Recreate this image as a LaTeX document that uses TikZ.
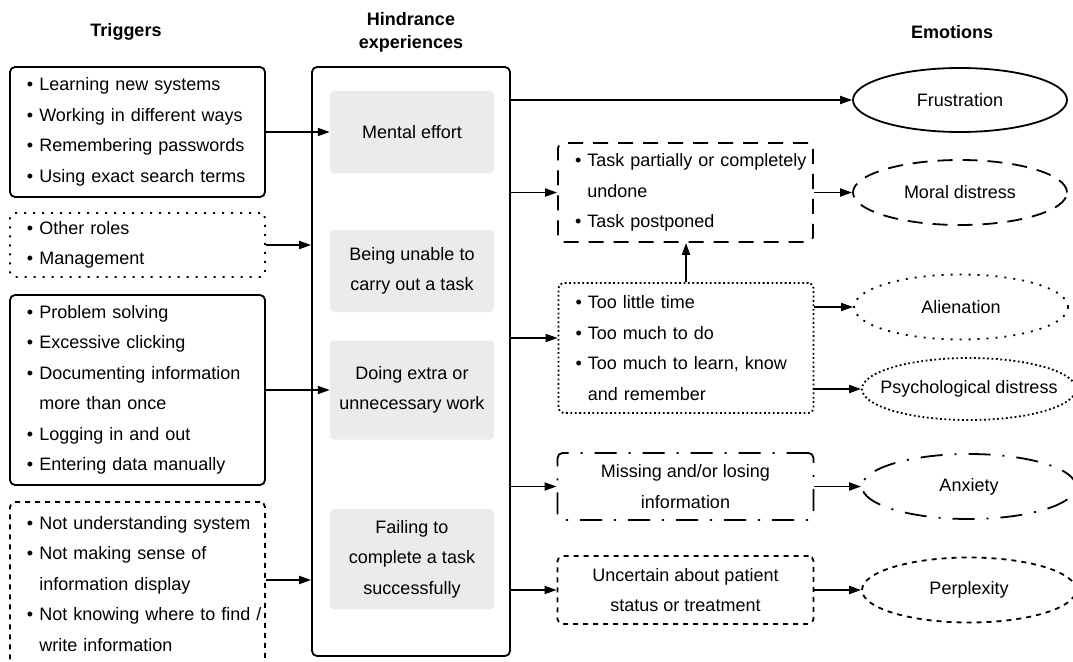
\documentclass[tikz,border=0pt]{standalone}
\usepackage{fontspec}
\setmainfont{Liberation Sans}
\usetikzlibrary{arrows.meta,shapes.geometric}
\newcommand{\bul}{\textbullet\ }
\newcommand{\gap}{\hphantom{\textbullet\ }}

\begin{document}
\begin{tikzpicture}[x=1pt,y=-1pt,
	every node/.style={font=\fontsize{18}{30.5}\selectfont},
	head/.style={font=\fontsize{18}{23}\selectfont\bfseries,align=center},
	fewdots/.style={dash pattern=on 2pt off 7pt},
	manydots/.style={dash pattern=on 1.8pt off 2.6pt},
	longdashes/.style={dash pattern=on 15pt off 10pt},
	shortdashes/.style={dash pattern=on 5pt off 5pt},
	dashdots/.style={dash pattern=on 22pt off 12pt on 2pt off 12pt},
	listbox/.style={draw,line width=1.8pt,rounded corners=5pt,align=left,text width=221pt,inner xsep=17pt,inner ysep=0pt},
	midbox/.style={draw,line width=1.8pt,rounded corners=5pt,align=center,minimum width=256pt,inner sep=0pt},
	hindbox/.style={fill=black!8,rounded corners=4pt,align=center,minimum width=164pt,inner sep=0pt},
	emo/.style={draw,ellipse,line width=1.8pt,minimum width=214pt,minimum height=65pt,inner xsep=-20pt,inner ysep=0pt},
	arr/.style={-{Triangle[length=12pt,width=8pt]},line width=1.8pt}]
	\useasboundingbox (0,0) rectangle (1073,661);
	% column heads
	\node[head] (trig) at (126,32) {Triggers};
	\node[head] (hind) at (411,32) {Hindrance\\experiences};
	\node[head] (emot) at (952,32) {Emotions};
	% triggers
	\node[listbox,minimum height=130pt] (t1) at (137.5,132) {\bul Learning new systems\\\bul Working in different ways\\\bul Remembering passwords\\\bul Using exact search terms};
	\node[listbox,fewdots,minimum height=64pt] (t2) at (137.5,245) {\bul Other roles\\\bul Management};
	\node[listbox,minimum height=190pt] (t3) at (137.5,390) {\bul Problem solving\\\bul Excessive clicking\\\bul Documenting information\\\gap more than once\\\bul Logging in and out\\\bul Entering data manually};
	\node[listbox,shortdashes,minimum height=164pt] (t4) at (137.5,584) {\mbox{\bul Not understanding system}\\\bul Not making sense of\\\gap information display\\\mbox{\bul Not knowing where to find /}\\\gap write information};
	% hindrance experiences
	\node[draw,line width=1.8pt,rounded corners=5pt,minimum width=198pt,minimum height=589pt,inner sep=0pt] (hbox) at (411,361.5) {};
	\node[hindbox,minimum height=82pt] (h1) at (412,132) {Mental effort};
	\node[hindbox,minimum height=82pt] (h2) at (412,271) {Being unable to\\carry out a task};
	\node[hindbox,minimum height=99pt] (h3) at (412,390) {Doing extra or\\unnecessary work};
	\node[hindbox,minimum height=100pt] (h4) at (412,559) {Failing to\\complete a task\\successfully};
	% consequences
	\node[listbox,longdashes,minimum height=99pt] (r1) at (685.5,192.5) {\mbox{\bul Task partially or completely}\\\gap undone\\\bul Task postponed};
	\node[listbox,manydots,minimum height=130pt] (r2) at (686,348) {\bul Too little time\\\bul Too much to do\\\bul Too much to learn, know\\\gap and remember};
	\node[midbox,dashdots,minimum height=67pt] (r3) at (685.5,486.5) {Missing and/or losing\\information};
	\node[midbox,shortdashes,minimum height=68pt] (r4) at (685.5,590) {Uncertain about patient\\status or treatment};
	% emotions
	\node[emo,minimum height=64pt] (e1) at (960,100) {Frustration};
	\node[emo,longdashes] (e2) at (960,192.5) {Moral distress};
	\node[emo,fewdots] (e3) at (961,307) {Alienation};
	\node[emo,manydots,minimum height=62pt] (e4) at (969,389) {Psychological distress};
	\node[emo,dashdots] (e5) at (969,486.5) {Anxiety};
	\node[emo,shortdashes] (e6) at (969,590) {Perplexity};
	% arrows
	\draw[arr] (t1.east) -- (h1.west);
	\draw[arr] (t2.east) -- (t2.east -| hbox.west);
	\draw[arr] (t3.east) -- (h3.west);
	\coordinate (t4out) at ([yshift=4pt]t4.east);
	\draw[arr] (t4out) -- (t4out -| hbox.west);
	\draw[arr] (hbox.east |- e1.west) -- (e1.west);
	\draw[arr] (hbox.east |- r1.west) -- (r1.west);
	\coordinate (r2in) at ([yshift=10pt]r2.west);
	\draw[arr] (hbox.east |- r2in) -- (r2in);
	\draw[arr] (hbox.east |- r3.west) -- (r3.west);
	\draw[arr] (hbox.east |- r4.west) -- (r4.west);
	\draw[arr] (r2.north) -- (r2.north |- r1.south);
	\draw[arr] (r1.east) -- (e2.west);
	\draw[arr] (r2.east |- e3.west) -- (e3.west);
	\draw[arr] (r2.east |- e4.west) -- (e4.west);
	\draw[arr] (r3.east) -- (e5.west);
	\draw[arr] (r4.east) -- (e6.west);
\end{tikzpicture}
\end{document}
